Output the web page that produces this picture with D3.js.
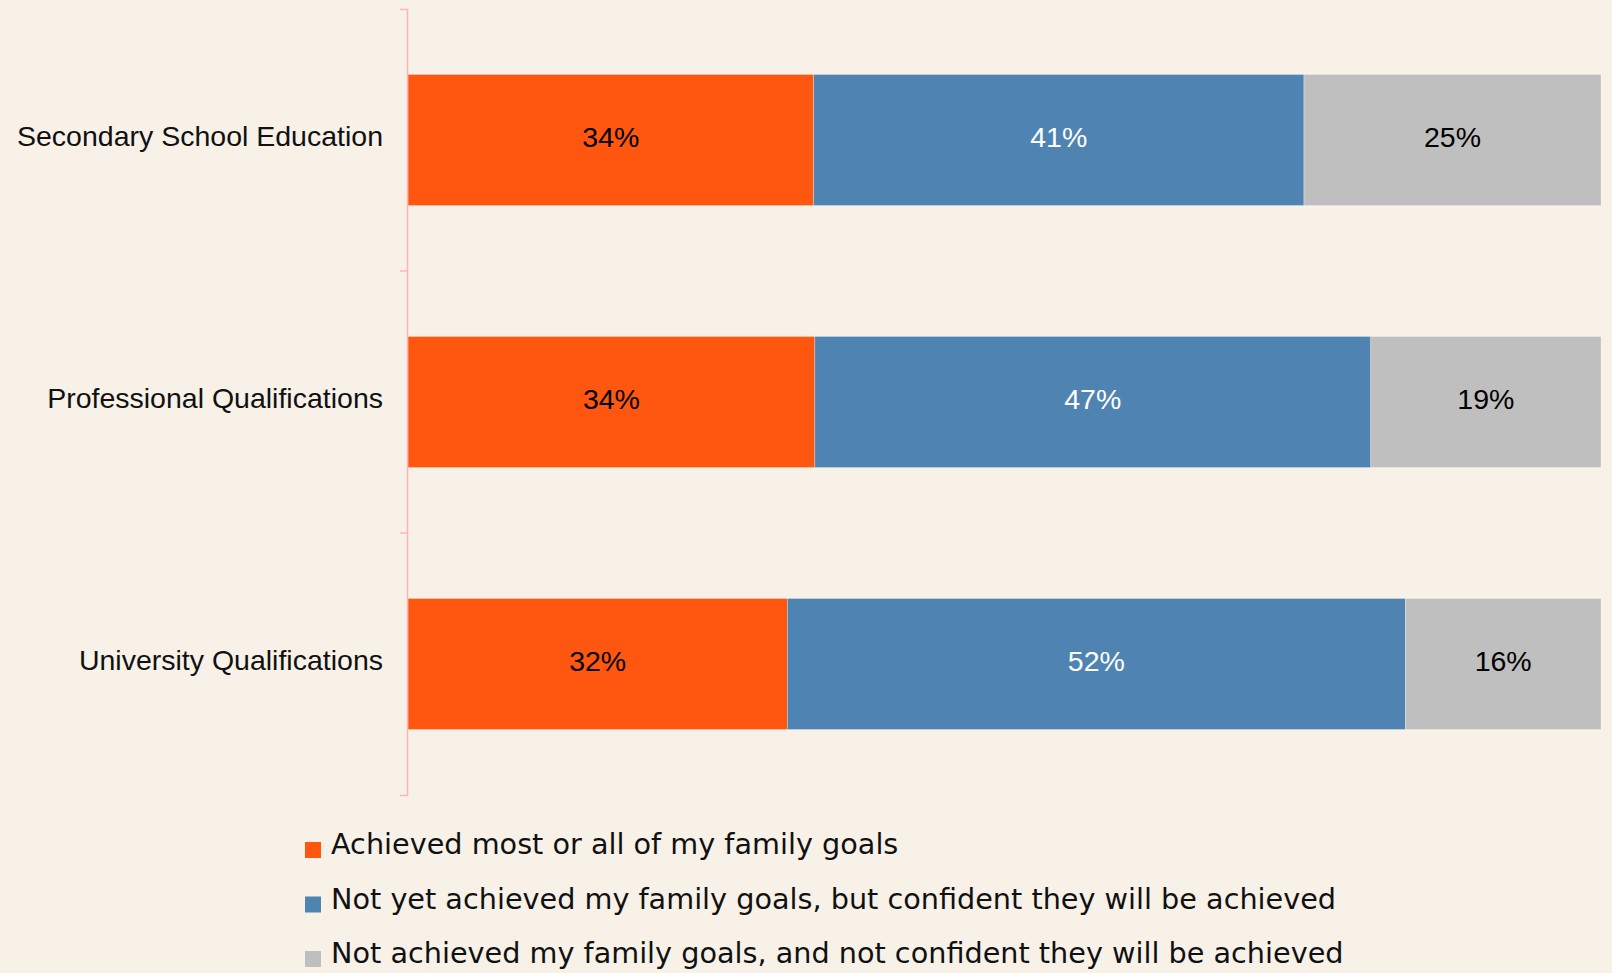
<!DOCTYPE html>
<html>
<head>
<meta charset="utf-8">
<script src="https://cdn.jsdelivr.net/npm/d3@7"></script>
<style>
  html, body { margin: 0; padding: 0; background: #f8f1e8; }
  svg { display: block; }
</style>
</head>
<body>
<div id="chart"></div>
<script>
// data
const categories = ["Secondary School Education", "Professional Qualifications", "University Qualifications"];
const achieved   = [34.0, 34.1, 31.8];
const confident  = [41.1, 46.6, 51.8];
const notConf    = [24.9, 19.3, 16.4];
const labels     = [["34%", "41%", "25%"], ["34%", "47%", "19%"], ["32%", "52%", "16%"]];
const seriesNames = [
  "Achieved most or all of my family goals",
  "Not yet achieved my family goals, but confident they will be achieved",
  "Not achieved my family goals, and not confident they will be achieved"
];
const colors     = ["#ff570f", "#4e83b2", "#bfbfbf"];
const textColors = ["#000", "#fff", "#000"];

const width = 1612, height = 973;

const svg = d3.select("#chart")
              .append("svg")
              .attr("width", width)
              .attr("height", height);

svg.append("rect")
   .attr("width", width)
   .attr("height", height)
   .attr("fill", "#f8f1e8");

const x = d3.scaleLinear()
            .domain([0, 100])
            .range([408, 1601]);

const y = d3.scaleBand()
            .domain(categories)
            .range([9, 795])
            .paddingInner(0.5)
            .paddingOuter(0.25);

// build rows for stacking
const rows = categories.map((c, i) => ({
  cat: c, idx: i, s0: achieved[i], s1: confident[i], s2: notConf[i]
}));
const stack = d3.stack().keys(["s0", "s1", "s2"]);
const stacked = stack(rows);

// bars
const layer = svg.selectAll("g.layer")
                 .data(stacked)
                 .enter()
                 .append("g")
                 .attr("class", "layer")
                 .attr("fill", (d, k) => colors[k]);

layer.selectAll("rect")
     .data(d => d)
     .enter()
     .append("rect")
     .attr("x", d => x(d[0]))
     .attr("y", d => y(d.data.cat))
     .attr("width", d => x(d[1]) - x(d[0]))
     .attr("height", y.bandwidth())
     .attr("stroke", "#ffffff")
     .attr("stroke-opacity", 0.35)
     .attr("stroke-width", 0.75);

// value labels
layer.selectAll("text")
     .data(d => d)
     .enter()
     .append("text")
     .attr("x", d => (x(d[0]) + x(d[1])) / 2)
     .attr("y", d => y(d.data.cat) + y.bandwidth() / 2)
     .attr("dy", "0.24em")
     .attr("text-anchor", "middle")
     .attr("font-family", "'Liberation Sans', Arial, sans-serif")
     .attr("font-size", "28.5px")
     .attr("fill", function(d) {
       const k = d3.select(this.parentNode).datum().index;
       return textColors[k];
     })
     .text(function(d) {
       const k = d3.select(this.parentNode).datum().index;
       return labels[d.data.idx][k];
     });

// axis
const axisG = svg.append("g")
                 .attr("transform", "translate(407,0)")
                 .call(d3.axisLeft(y).tickSize(0).tickSizeOuter(7).tickPadding(24));

axisG.select(".domain")
     .attr("stroke", "#ffb5b5")
     .attr("stroke-width", 1.5);

axisG.selectAll(".tick text")
     .attr("font-family", "'Liberation Sans', Arial, sans-serif")
     .attr("font-size", "28.5px")
     .attr("fill", "#111")
     .attr("dy", "0.2em");

// boundary ticks between categories
const gap = (y.step() - y.bandwidth()) / 2;
axisG.selectAll("line.sep")
     .data(categories.slice(1))
     .enter()
     .append("line")
     .attr("class", "sep")
     .attr("x1", -7)
     .attr("x2", 0)
     .attr("y1", d => y(d) - gap)
     .attr("y2", d => y(d) - gap)
     .attr("stroke", "#ffb5b5")
     .attr("stroke-width", 1.5);

// legend
const legend = svg.append("g")
                  .attr("transform", "translate(305,0)");

const legendRow = legend.selectAll("g")
                        .data(seriesNames)
                        .enter()
                        .append("g")
                        .attr("transform", (d, i) => "translate(0," + (854 + i * 54.5) + ")");

legendRow.append("rect")
         .attr("x", 0)
         .attr("y", -12)
         .attr("width", 16)
         .attr("height", 16)
         .attr("fill", (d, i) => colors[i]);

legendRow.append("text")
         .attr("x", 26)
         .attr("y", 0)
         .attr("font-family", "'DejaVu Sans', sans-serif")
         .attr("font-size", "28.7px")
         .attr("fill", "#111")
         .text(d => d);
</script>
</body>
</html>
